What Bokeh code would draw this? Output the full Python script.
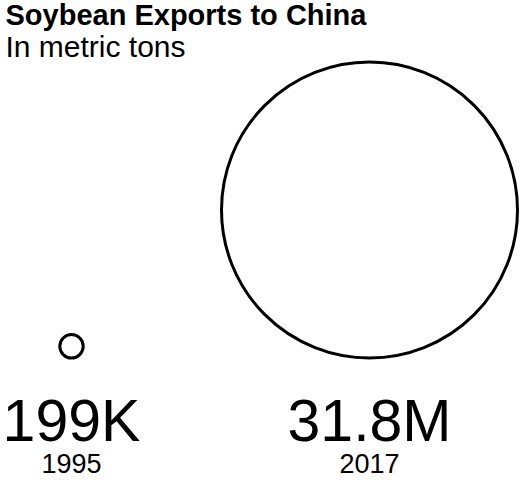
import numpy as np
from bokeh.plotting import figure
from bokeh.models import Range1d, ColumnDataSource, Label
from bokeh.embed import file_html
from bokeh.resources import INLINE
from bokeh.core.properties import value

# ---- data ----
years = ["1995", "2017"]
tons = [199_000, 31_800_000]
value_labels = ["199K", "31.8M"]

title = "Soybean Exports to China"
subtitle = "In metric tons"

# ---- layout (pixels) ----
W, H = 522, 480
col_x = [71, 369]                  # column centres
circle_base = 357.5                # circles sit on a common bottom line
r_max = 148                        # radius of the largest circle
SHIFT = 0.36                       # baseline correction (fraction of font size)


def base(y, size):
    return y - SHIFT * size


VAL_SIZE, YEAR_SIZE, TITLE_SIZE, SUB_SIZE = 59, 27, 29, 30

tons_arr = np.array(tons, dtype=float)
radii = r_max * np.sqrt(tons_arr / tons_arr.max())
cy = circle_base - radii

src = ColumnDataSource(dict(
    x=col_x, cy=cy, r=radii, lab=value_labels, yr=years,
    vy=[base(442, VAL_SIZE)] * len(years),
    yy=[base(473, YEAR_SIZE)] * len(years),
))

p = figure(width=W, height=H, x_range=Range1d(0, W), y_range=Range1d(H, 0),
           output_backend="svg", toolbar_location=None, min_border=0,
           x_axis_type=None, y_axis_type=None)
p.grid.visible = False
p.outline_line_color = None
p.background_fill_color = "white"
p.border_fill_color = "white"

p.circle(x="x", y="cy", radius="r", source=src, fill_color=None,
         line_color="black", line_width=3)

p.text(x="x", y="vy", text="lab", source=src, text_align="center",
       text_baseline="alphabetic", text_font=value("Liberation Sans"),
       text_font_size=f"{VAL_SIZE}px", text_color="black")
p.text(x="x", y="yy", text="yr", source=src, text_align="center",
       text_baseline="alphabetic", text_font=value("Liberation Sans"),
       text_font_size=f"{YEAR_SIZE}px", text_color="black")

p.add_layout(Label(x=5, y=base(25, TITLE_SIZE), text=title,
                   text_font="Liberation Sans", text_font_style="bold",
                   text_font_size=f"{TITLE_SIZE}px",
                   text_baseline="alphabetic", text_color="black"))
p.add_layout(Label(x=5, y=base(57, SUB_SIZE), text=subtitle,
                   text_font="Liberation Sans",
                   text_font_size=f"{SUB_SIZE}px",
                   text_baseline="alphabetic", text_color="black"))

open("out.html", "w").write(file_html(p, INLINE))
